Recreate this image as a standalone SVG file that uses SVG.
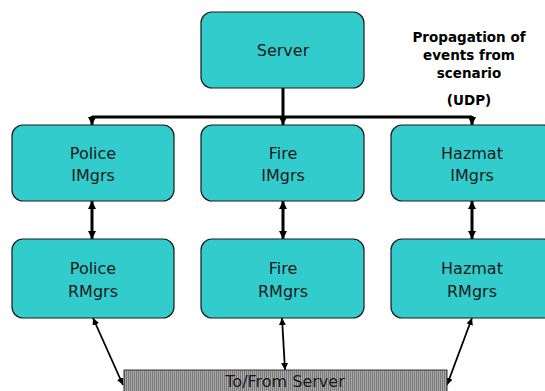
<svg xmlns="http://www.w3.org/2000/svg" width="545" height="391" viewBox="0 0 545 391">
<style>
.box{fill:#33CCCC;stroke:#1a1a1a;stroke-width:1.2}
.lbl{font-family:"DejaVu Sans",Verdana,sans-serif;font-size:16px;fill:#1a1a1a;text-anchor:middle}
.note{font-family:"DejaVu Sans",Verdana,sans-serif;font-size:13.5px;font-weight:bold;fill:#000;text-anchor:middle}
.thick{stroke:#000;stroke-width:3;fill:none}
.thin{stroke:#000;stroke-width:1.8;fill:none}
</style>
<defs>
<marker id="ah" viewBox="0 0 8 8" refX="8" refY="4" markerWidth="8" markerHeight="8" markerUnits="userSpaceOnUse" orient="auto-start-reverse">
<path d="M0,0 L8,4 L0,8 z" fill="#000"/>
</marker>
<marker id="ahs" viewBox="0 0 8 8" refX="8" refY="4" markerWidth="7" markerHeight="7" markerUnits="userSpaceOnUse" orient="auto-start-reverse">
<path d="M0,0 L8,4 L0,8 z" fill="#000"/>
</marker>
<pattern id="hatch" width="2" height="4" patternUnits="userSpaceOnUse">
<rect width="2" height="4" fill="#a8a8a8"/>
<rect width="1" height="4" fill="#7a7a7a"/>
</pattern>
</defs>
<g id="connectors">
<line class="thick" x1="92" y1="117" x2="472" y2="117"/>
<line class="thick" x1="283" y1="88" x2="283" y2="125" marker-end="url(#ah)"/>
<line class="thick" x1="92" y1="116" x2="92" y2="125" marker-end="url(#ah)"/>
<line class="thick" x1="472" y1="116" x2="472" y2="125" marker-end="url(#ah)"/>
<line class="thick" x1="92" y1="201" x2="92" y2="239" marker-start="url(#ah)" marker-end="url(#ah)"/>
<line class="thick" x1="283" y1="201" x2="283" y2="239" marker-start="url(#ah)" marker-end="url(#ah)"/>
<line class="thick" x1="472" y1="201" x2="472" y2="239" marker-start="url(#ah)" marker-end="url(#ah)"/>
<line class="thin" x1="93" y1="318" x2="123" y2="385" marker-start="url(#ahs)" marker-end="url(#ahs)"/>
<line class="thin" x1="282" y1="318" x2="285" y2="370" marker-start="url(#ahs)" marker-end="url(#ahs)"/>
<line class="thin" x1="472" y1="318" x2="447" y2="385" marker-start="url(#ahs)" marker-end="url(#ahs)"/>
</g>
<g id="server">
<rect class="box" x="201" y="12" width="163" height="76" rx="11"/>
<text class="lbl" x="283" y="56">Server</text>
</g>
<g id="note">
<text class="note" x="469" y="42">Propagation of</text>
<text class="note" x="469" y="60">events from</text>
<text class="note" x="469" y="78">scenario</text>
<text class="note" x="469" y="105">(UDP)</text>
</g>
<g id="police-imgrs">
<rect class="box" x="12" y="125" width="162" height="76" rx="11"/>
<text class="lbl" x="93" y="159">Police</text>
<text class="lbl" x="93" y="181">IMgrs</text>
</g>
<g id="fire-imgrs">
<rect class="box" x="201" y="125" width="163" height="76" rx="11"/>
<text class="lbl" x="283" y="159">Fire</text>
<text class="lbl" x="283" y="181">IMgrs</text>
</g>
<g id="hazmat-imgrs">
<rect class="box" x="391" y="125" width="163" height="76" rx="11"/>
<text class="lbl" x="472" y="159">Hazmat</text>
<text class="lbl" x="472" y="181">IMgrs</text>
</g>
<g id="police-rmgrs">
<rect class="box" x="12" y="239" width="162" height="79" rx="11"/>
<text class="lbl" x="93" y="274">Police</text>
<text class="lbl" x="93" y="297">RMgrs</text>
</g>
<g id="fire-rmgrs">
<rect class="box" x="201" y="239" width="163" height="79" rx="11"/>
<text class="lbl" x="283" y="274">Fire</text>
<text class="lbl" x="283" y="297">RMgrs</text>
</g>
<g id="hazmat-rmgrs">
<rect class="box" x="391" y="239" width="163" height="79" rx="11"/>
<text class="lbl" x="472" y="274">Hazmat</text>
<text class="lbl" x="472" y="297">RMgrs</text>
</g>
<g id="to-from-server">
<rect x="124" y="370" width="323" height="30" fill="url(#hatch)" stroke="#333" stroke-width="1"/>
<text class="lbl" x="285" y="387">To/From Server</text>
</g>
</svg>
